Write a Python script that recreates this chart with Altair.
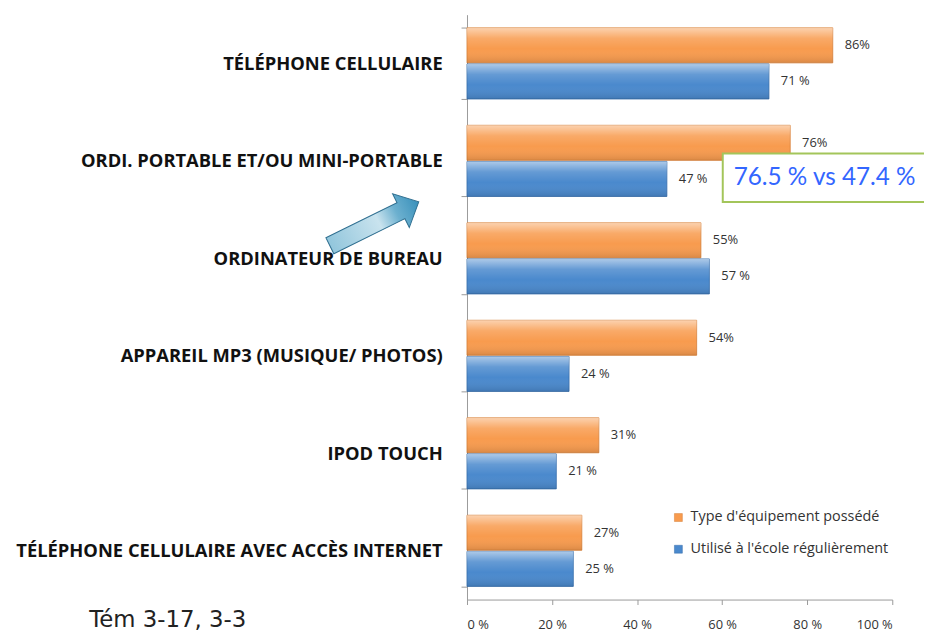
import altair as alt
import pandas as pd

categories = [
    "Téléphone cellulaire",
    "Ordi. portable et/ou mini-portable",
    "Ordinateur de bureau",
    "Appareil mp3 (musique/ photos)",
    "iPod touch",
    "Téléphone cellulaire avec accès Internet",
]
series = ["Type d'équipement possédé", "Utilisé à l'école régulièrement"]
owned = [86, 76, 55, 54, 31, 27]
used = [71, 47, 57, 24, 21, 25]
owned_labels = ["86%", "76%", "55%", "54%", "31%", "27%"]
used_labels = ["71 %", "47 %", "57 %", "24 %", "21 %", "25 %"]
x_ticks = [0, 20, 40, 60, 80, 100]
fill_colors = ["#F89B4E", "#4A89CD"]
stroke_colors = ["#D57D35", "#356CAA"]
annotation_text = "76.5 % vs 47.4 %"
source_text = "Tém 3-17, 3-3"

rows = []
for i, c in enumerate(categories):
    rows.append({"cat": c, "series": series[0], "value": owned[i], "label": owned_labels[i]})
    rows.append({"cat": c, "series": series[1], "value": used[i], "label": used_labels[i]})
df = pd.DataFrame(rows)

FONT = "Open Sans"

y_enc = alt.Y(
    "cat:N",
    sort=categories,
    scale=alt.Scale(paddingInner=0.27, paddingOuter=0.135),
    axis=alt.Axis(
        title=None,
        labelExpr="upper(datum.label)",
        labelFont=FONT,
        labelFontWeight="bold",
        labelFontSize=18.5,
        labelColor="#111111",
        labelPadding=19,
        labelLimit=600,
        tickBand="extent",
        tickSize=6,
        tickColor="#9a9a9a",
        domainColor="#9a9a9a",
    ),
)
yoff_enc = alt.YOffset("series:N", sort=series, scale=alt.Scale(domain=series, paddingInner=0.03))
x_enc = alt.X(
    "value:Q",
    scale=alt.Scale(domain=[0, 100]),
    axis=alt.Axis(
        title=None,
        values=x_ticks,
        labelExpr="datum.value + ' %'",
        grid=False,
        labelFont=FONT,
        labelFontSize=13,
        labelColor="#333333",
        labelPadding=14,
        tickSize=5,
        tickColor="#9a9a9a",
        domainColor="#9a9a9a",
    ),
)

base = alt.Chart(df).encode(x=x_enc, y=y_enc, yOffset=yoff_enc)

bars = base.mark_bar(strokeWidth=0.8).encode(
    color=alt.Color(
        "series:N",
        sort=series,
        scale=alt.Scale(domain=series, range=fill_colors),
        legend=alt.Legend(
            title=None,
            orient="none",
            legendX=206,
            legendY=500,
            symbolType="square",
            symbolSize=64,
            symbolStrokeWidth=0.5,
            labelFont=FONT,
            labelFontSize=14.5,
            labelColor="#333333",
            labelOffset=5,
            rowPadding=17,
            labelLimit=400,
            padding=0,
        ),
    ),
    stroke=alt.Stroke("series:N", scale=alt.Scale(domain=series, range=stroke_colors), legend=None),
)

gloss = base.mark_bar(
    fill=alt.LinearGradient(
        gradient="linear",
        x1=0, x2=0, y1=0, y2=1,
        stops=[
            alt.GradientStop(color="rgba(255,255,255,0.55)", offset=0),
            alt.GradientStop(color="rgba(255,255,255,0.15)", offset=0.3),
            alt.GradientStop(color="rgba(255,255,255,0)", offset=0.6),
            alt.GradientStop(color="rgba(0,0,0,0.12)", offset=1),
        ],
    )
)

labels = base.mark_text(align="left", baseline="middle", dx=12, font=FONT, fontSize=13, color="#333333").encode(
    text="label:N"
)

ann_df = pd.DataFrame({"t": [annotation_text]})
ann_box = alt.Chart(ann_df).mark_rect(fill="white", stroke="#A3C55A", strokeWidth=2).encode(
    x=alt.value(258), x2=alt.value(468), y=alt.value(140), y2=alt.value(189)
)
ann_text = alt.Chart(ann_df).mark_text(
    align="left", baseline="middle", font="Lato", fontSize=24.5, color="#3366FF"
).encode(x=alt.value(269), y=alt.value(165), text="t:N")

src_df = pd.DataFrame({"t": [source_text]})
src_text = alt.Chart(src_df).mark_text(
    align="left", baseline="middle", font="DejaVu Sans", fontSize=23, color="#222222"
).encode(x=alt.value(-381), y=alt.value(611), text="t:N")

arrow_path = "M -1 -0.18 L 0.6 -0.18 L 0.6 -0.38 L 1 0 L 0.6 0.38 L 0.6 0.18 L -1 0.18 Z"
arrow = alt.Chart(ann_df).mark_point(
    shape=arrow_path,
    size=10000,
    angle=333.7,
    filled=True,
    opacity=1,
    fill=alt.LinearGradient(
        gradient="linear",
        x1=0, x2=1, y1=0, y2=0,
        stops=[
            alt.GradientStop(color="#92c6dc", offset=0),
            alt.GradientStop(color="#c9e3ee", offset=0.55),
            alt.GradientStop(color="#6cb0cf", offset=0.75),
            alt.GradientStop(color="#3a91bb", offset=1),
        ],
    ),
    stroke="#2f6f90",
    strokeWidth=1,
).encode(x=alt.value(-93.5), y=alt.value(211))

chart = alt.layer(bars, gloss, labels, ann_box, ann_text, src_text, arrow).properties(
    width=429,
    height=590,
    padding={"left": 463, "top": 4, "right": 32, "bottom": 30},
    autosize=alt.AutoSizeParams(type="none"),
    background="white",
).configure_view(stroke=None)

chart.save("out.html", embed_options={"renderer": "svg", "actions": False})
